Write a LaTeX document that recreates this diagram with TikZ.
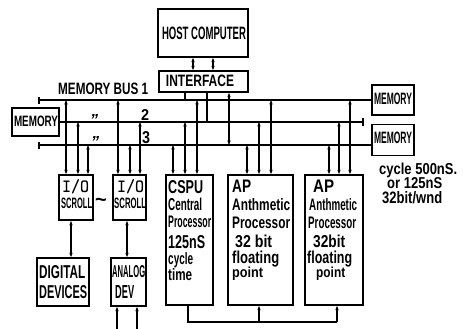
\documentclass[tikz,border=0pt]{standalone}
\usepackage{graphicx}
\usepackage{fontspec}
\setmainfont{Liberation Sans}
\usetikzlibrary{arrows.meta}
\newcommand\fb[3]{\resizebox{#1pt}{#2pt}{\bfseries #3}}
\begin{document}
\begin{tikzpicture}[x=1pt,y=-1pt,
  box/.style={draw,line width=1.7pt,inner sep=0pt},
  wire/.style={line width=1.2pt},
  tip/.tip={Stealth[length=4.5pt,width=3.4pt]},
  bi/.style={wire,tip-tip},
  upar/.style={wire,-tip},
  txt/.style={inner sep=0pt,anchor=base west},
  ctxt/.style={inner sep=0pt,anchor=center}
]
\useasboundingbox (0,0) rectangle (463,329);

% boxes
\node[box,minimum width=90pt,minimum height=48pt] (host) at (203,33) {};
\node[box,minimum width=89pt,minimum height=21pt] (iface) at (203.5,81.5) {};
\node[box,minimum width=47pt,minimum height=28pt] (memL) at (35.5,122) {};
\node[box,minimum width=42pt,minimum height=30pt] (memR1) at (393,100) {};
\node[box,minimum width=42pt,minimum height=31pt] (memR2) at (393,140) {};
\node[box,minimum width=34pt,minimum height=45pt] (io1) at (76,197.5) {};
\node[box,minimum width=33pt,minimum height=45pt] (io2) at (129.5,197.5) {};
\node[box,minimum width=52pt,minimum height=48pt] (dig) at (63,282) {};
\node[box,minimum width=35pt,minimum height=48pt] (ana) at (128.5,282) {};
\node[box,minimum width=47pt,minimum height=130pt] (cspu) at (189.5,240) {};
\node[box,minimum width=65pt,minimum height=130pt] (ap1) at (260.5,240) {};
\node[box,minimum width=58pt,minimum height=130pt] (ap2) at (334,240) {};

% texts
\node[ctxt] (thost) at (204,33) {\fb{84}{12.5}{HOST COMPUTER}};
\node[ctxt] (tiface) at (200,81) {\fb{68}{11.5}{INTERFACE}};
\node[txt] (tbus) at (58,95) {\fb{90}{11.5}{MEMORY BUS 1}};
\node[ctxt] (tmemL) at (36,121) {\fb{44}{10.5}{MEMORY}};
\node[ctxt] (tmemR1) at (393,99) {\fb{38}{11.5}{MEMORY}};
\node[ctxt] (tmemR2) at (393,138) {\fb{38}{11.5}{MEMORY}};
\node[txt,font=\fontsize{16}{16}\selectfont\bfseries\itshape] (ditto1) at (90,125) {"};
\node[txt,font=\fontsize{16}{16}\selectfont\bfseries\itshape] (ditto2) at (91,147.5) {"};
\node[ctxt] (t2) at (145,115) {\fb{8}{11}{2}};
\node[ctxt] (t3) at (146,138) {\fb{8}{12}{3}};

\node[txt] (io1a) at (62,192) {\fb{27}{13}{\ttfamily I/O}};
\node[txt] (io1b) at (61,208) {\fb{31}{10.5}{SCROLL}};
\node[txt] (io2a) at (117,192) {\fb{27}{13}{\ttfamily I/O}};
\node[txt] (io2b) at (114,208) {\fb{32}{10.5}{SCROLL}};
\node[ctxt,font=\fontsize{20}{20}\selectfont\bfseries] (tilde) at (101,202) {\textasciitilde};

\node[txt] (dig1) at (39,278) {\fb{46}{13}{DIGITAL}};
\node[txt] (dig2) at (39,298) {\fb{48}{13}{DEVICES}};
\node[txt] (ana1) at (112,277) {\fb{33}{12}{ANALOG}};
\node[txt] (ana2) at (115,298) {\fb{19}{13}{DEV}};

\node[txt] (c1) at (168,193) {\fb{35}{13}{CSPU}};
\node[txt] (c2) at (168,210) {\fb{34}{12.5}{Central}};
\node[txt] (c3) at (168,227) {\fb{43}{11.5}{Processor}};
\node[txt] (c4) at (168,248) {\fb{37}{13}{125nS}};
\node[txt] (c5) at (168,264.5) {\fb{25}{12}{cycle}};
\node[txt] (c6) at (168,280) {\fb{24}{12}{time}};

\node[txt] (a1) at (232,192) {\fb{19}{12.5}{AP}};
\node[txt] (a2) at (232,210) {\fb{58}{12}{Anthmetic}};
\node[txt] (a3) at (232,228) {\fb{58}{11.5}{Processor}};
\node[txt] (a4) at (235,247) {\fb{37}{12.5}{32 bit}};
\node[txt] (a5) at (232,263) {\fb{47}{12.5}{floating}};
\node[txt] (a6) at (232,277.5) {\fb{31}{10.5}{point}};

\node[txt] (b1) at (313,192) {\fb{21}{12.5}{AP}};
\node[txt] (b2) at (309,210) {\fb{48}{12}{Anthmetic}};
\node[txt] (b3) at (308,228) {\fb{48}{11.5}{Processor}};
\node[txt] (b4) at (313,247) {\fb{32}{12.5}{32bit}};
\node[txt] (b5) at (307,263) {\fb{45}{12.5}{floating}};
\node[txt] (b6) at (316,277.5) {\fb{29}{10.5}{point}};

\node[txt] (cy1) at (379,174) {\fb{78}{11.5}{cycle 500nS.}};
\node[txt] (cy2) at (387,188.5) {\fb{55}{11}{or 125nS}};
\node[txt] (cy3) at (382,203.5) {\fb{60}{12}{32bit/wnd}};

% host - interface
\draw[bi] (host.south -| 193,0) -- (iface.north -| 193,0);
\draw[bi] (host.south -| 213,0) -- (iface.north -| 213,0);

% buses
\coordinate (b1end) at (39,100);
\coordinate (b2end) at (363,122);
\coordinate (b3end) at (39,145);
\draw[wire] (b1end) -- (memR1.west);
\draw[wire] (39,97) -- (39,104);
\draw[wire] (memL.east) -- (b2end);
\draw[line width=1.6pt] (363,118) -- (363,126);
\draw[wire] (b3end) -- (memR2.west |- 0,145);
\draw[wire] (39,142) -- (39,149);

% interface to buses
\draw[line width=2.4pt] (iface.south -| 185,0) -- (185,100);
\draw[wire] (iface.south -| 207,0) -- (207,122);
\draw[bi] (iface.south -| 229,0) -- (229,145);

% bus to modules
\foreach \x/\y/\n in {66/100/io1,78/122/io1,88/145/io1,
                      118/100/io2,130/145/io2,140/122/io2,
                      173/145/cspu,185/122/cspu,197/100/cspu,
                      247/145/ap1,259/122/ap1,271/100/ap1,
                      329/145/ap2,339/122/ap2,350/100/ap2}
  \draw[bi] (\x,\y) -- (\n.north -| \x,0);

% io to devices
\draw[bi] (io1.south -| 71,0) -- (dig.north -| 71,0);
\draw[bi] (io2.south -| 127,0) -- (ana.north -| 127,0);
\coordinate (in1) at (117,329);
\coordinate (in2) at (137,329);
\draw[upar] (in1) -- (ana.south -| in1);
\draw[upar] (in2) -- (ana.south -| in2);

% processor bus
\coordinate (pb) at (337,322);
\draw[wire] (cspu.south -| 188,0) |- (pb);
\draw[upar] (259,322) -- (ap1.south -| 259,0);
\draw[upar] (pb) -- (ap2.south -| pb);
\end{tikzpicture}
\end{document}
